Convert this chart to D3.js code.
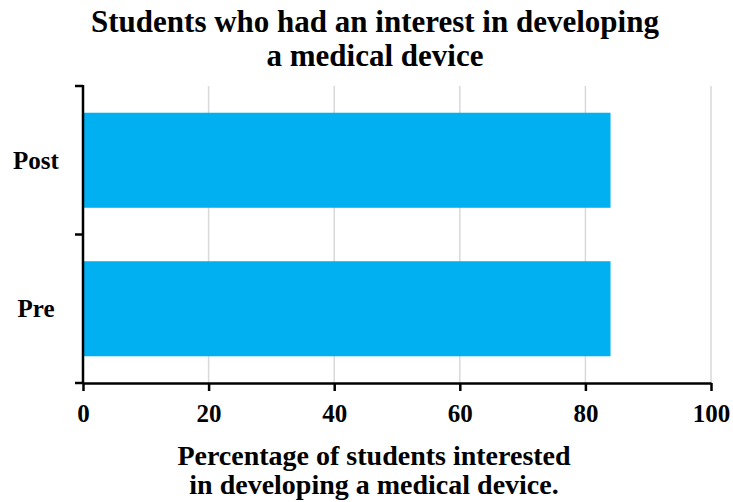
<!DOCTYPE html>
<html>
<head>
<meta charset="utf-8">
<script src="https://cdn.jsdelivr.net/npm/d3@7"></script>
<style>
  body { margin: 0; background: #fff; }
  svg text { font-family: "Liberation Serif", "Times New Roman", "DejaVu Serif", serif !important; font-weight: bold; fill: #000; }
</style>
</head>
<body>
<svg id="chart" width="733" height="502"></svg>
<script>
// Survey groups, top to bottom
const categories = ["Post", "Pre"];
// Percentage of students interested
const values = [84, 84];
const xTicks = [0, 20, 40, 60, 80, 100];
const titleLines = ["Students who had an interest in developing", "a medical device"];
const xTitleLines = ["Percentage of students interested", "in developing a medical device."];

const svg = d3.select("#chart");
const margin = { left: 83, right: 22, top: 86, bottom: 119 };
const W = 733, H = 502;

const x = d3.scaleLinear().domain([0, 100]).range([margin.left, W - margin.right]);
const y = d3.scaleBand().domain(categories)
  .range([margin.top, H - margin.bottom])
  .paddingInner(0.36).paddingOuter(0.18);

// Vertical gridlines
svg.append("g")
  .selectAll("line")
  .data(xTicks.filter(d => d > 0))
  .join("line")
  .attr("x1", d => x(d)).attr("x2", d => x(d))
  .attr("y1", margin.top).attr("y2", H - margin.bottom)
  .attr("stroke", "#d9d9d9").attr("stroke-width", 1.5);

// Bars
svg.append("g")
  .selectAll("rect")
  .data(categories.map((c, i) => ({ c, v: values[i] })))
  .join("rect")
  .attr("x", x(0))
  .attr("y", d => y(d.c))
  .attr("width", d => x(d.v) - x(0))
  .attr("height", y.bandwidth())
  .attr("fill", "#00B0F0");

// X axis
const xAxis = svg.append("g")
  .attr("transform", `translate(0,${H - margin.bottom})`)
  .call(d3.axisBottom(x).tickValues(xTicks).tickSize(8).tickPadding(6).tickSizeOuter(0));
xAxis.attr("font-family", null).attr("font-size", null);
xAxis.select(".domain").attr("stroke", "#000").attr("stroke-width", 2.5);
xAxis.selectAll(".tick line").attr("stroke", "#000").attr("stroke-width", 2.5);
xAxis.selectAll(".tick text")
  .attr("dy", null)
  .attr("y", 39)
  .style("font-size", "25px");

// Y axis: boundary ticks between categories
const yBounds = [margin.top, margin.top + y.step(), H - margin.bottom];
const yAxisG = svg.append("g");
yAxisG.append("line")
  .attr("x1", x(0)).attr("x2", x(0))
  .attr("y1", margin.top - 1).attr("y2", H - margin.bottom)
  .attr("stroke", "#000").attr("stroke-width", 2.5);
yAxisG.selectAll("line.bt")
  .data(yBounds)
  .join("line").attr("class", "bt")
  .attr("x1", x(0) - 8).attr("x2", x(0))
  .attr("y1", d => d).attr("y2", d => d)
  .attr("stroke", "#000").attr("stroke-width", 2.5);
yAxisG.selectAll("text")
  .data(categories)
  .join("text")
  .attr("x", 36)
  .attr("y", d => y(d) + y.bandwidth() / 2 + 8.5)
  .attr("text-anchor", "middle")
  .style("font-size", "25px")
  .text(d => d);

// Title
svg.append("g").selectAll("text")
  .data(titleLines)
  .join("text")
  .attr("x", 375).attr("y", (d, i) => 32 + i * 34)
  .attr("text-anchor", "middle")
  .style("font-size", "31px")
  .text(d => d);

// X axis title
svg.append("g").selectAll("text")
  .data(xTitleLines)
  .join("text")
  .attr("x", 374).attr("y", (d, i) => 465 + i * 29)
  .attr("text-anchor", "middle")
  .style("font-size", "28px")
  .text(d => d);
</script>
</body>
</html>
